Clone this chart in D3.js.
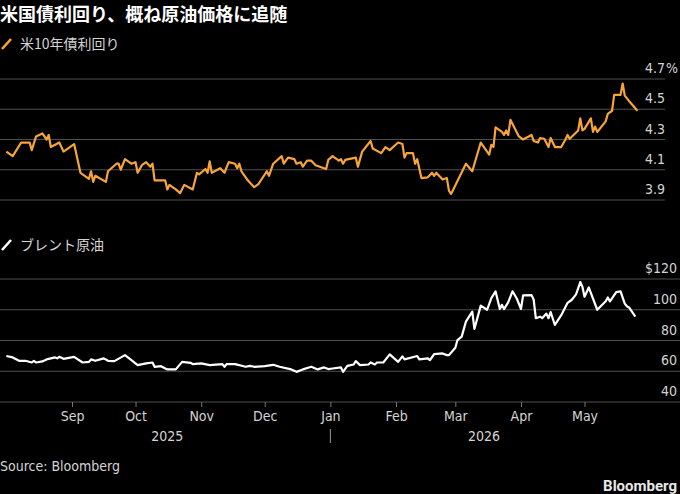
<!DOCTYPE html>
<html>
<head>
<meta charset="utf-8">
<script src="https://cdn.jsdelivr.net/npm/d3@7"></script>
<style>
  body { margin: 0; background: #000; }
  svg { display: block; }
  .cjk { font-family: "Noto Sans CJK JP", "Noto Sans", sans-serif; }
  .num { font-family: "Liberation Sans Narrow", "DejaVu Sans Condensed", "Roboto", sans-serif; }
</style>
</head>
<body>
<svg id="chart" width="680" height="494"></svg>
<script>
// 米10年債利回り (%)
var yieldData = [
  ["2025-08-01", 4.22], ["2025-08-04", 4.19], ["2025-08-08", 4.28], ["2025-08-12", 4.28],
  ["2025-08-13", 4.23], ["2025-08-15", 4.32], ["2025-08-18", 4.34], ["2025-08-20", 4.30],
  ["2025-08-21", 4.33], ["2025-08-22", 4.25], ["2025-08-26", 4.28], ["2025-08-28", 4.22],
  ["2025-09-02", 4.27], ["2025-09-05", 4.08], ["2025-09-09", 4.04], ["2025-09-10", 4.09],
  ["2025-09-11", 4.02], ["2025-09-12", 4.06], ["2025-09-17", 4.02], ["2025-09-18", 4.09],
  ["2025-09-22", 4.14], ["2025-09-23", 4.14], ["2025-09-24", 4.10], ["2025-09-26", 4.17],
  ["2025-09-29", 4.14], ["2025-10-01", 4.15], ["2025-10-02", 4.08], ["2025-10-04", 4.13],
  ["2025-10-06", 4.15], ["2025-10-08", 4.12], ["2025-10-09", 4.14], ["2025-10-10", 4.03],
  ["2025-10-15", 4.03], ["2025-10-16", 3.97], ["2025-10-17", 4.00], ["2025-10-20", 3.97],
  ["2025-10-22", 3.945], ["2025-10-24", 4.00], ["2025-10-28", 3.97], ["2025-10-30", 4.08],
  ["2025-10-31", 4.07], ["2025-11-03", 4.105], ["2025-11-04", 4.08], ["2025-11-05", 4.155],
  ["2025-11-06", 4.08], ["2025-11-10", 4.11], ["2025-11-12", 4.08], ["2025-11-14", 4.15],
  ["2025-11-17", 4.14], ["2025-11-18", 4.11], ["2025-11-19", 4.14], ["2025-11-20", 4.09],
  ["2025-11-23", 4.03], ["2025-11-26", 3.985], ["2025-11-28", 4.005], ["2025-12-02", 4.09],
  ["2025-12-03", 4.06], ["2025-12-05", 4.14], ["2025-12-09", 4.19], ["2025-12-10", 4.14],
  ["2025-12-12", 4.18], ["2025-12-15", 4.17], ["2025-12-16", 4.14], ["2025-12-18", 4.15],
  ["2025-12-19", 4.12], ["2025-12-21", 4.16], ["2025-12-23", 4.16], ["2025-12-25", 4.13],
  ["2025-12-30", 4.105], ["2025-12-31", 4.165], ["2026-01-02", 4.19], ["2026-01-05", 4.16],
  ["2026-01-06", 4.17], ["2026-01-07", 4.14], ["2026-01-08", 4.165], ["2026-01-13", 4.18],
  ["2026-01-14", 4.12], ["2026-01-16", 4.22], ["2026-01-20", 4.29], ["2026-01-21", 4.24],
  ["2026-01-25", 4.21], ["2026-01-27", 4.25], ["2026-01-29", 4.23], ["2026-02-02", 4.28],
  ["2026-02-04", 4.27], ["2026-02-05", 4.18], ["2026-02-06", 4.21], ["2026-02-09", 4.21],
  ["2026-02-10", 4.14], ["2026-02-11", 4.17], ["2026-02-13", 4.045], ["2026-02-16", 4.05],
  ["2026-02-18", 4.08], ["2026-02-19", 4.06], ["2026-02-20", 4.08], ["2026-02-23", 4.035],
  ["2026-02-25", 4.045], ["2026-02-26", 3.96], ["2026-02-27", 3.94], ["2026-03-06", 4.14],
  ["2026-03-09", 4.09], ["2026-03-13", 4.28], ["2026-03-17", 4.20], ["2026-03-18", 4.265],
  ["2026-03-19", 4.25], ["2026-03-20", 4.38], ["2026-03-23", 4.35], ["2026-03-24", 4.33],
  ["2026-03-25", 4.36], ["2026-03-26", 4.33], ["2026-03-27", 4.43], ["2026-03-31", 4.32],
  ["2026-04-02", 4.30], ["2026-04-06", 4.33], ["2026-04-07", 4.29], ["2026-04-09", 4.28],
  ["2026-04-10", 4.31], ["2026-04-12", 4.305], ["2026-04-14", 4.25], ["2026-04-15", 4.31],
  ["2026-04-17", 4.25], ["2026-04-20", 4.25], ["2026-04-22", 4.30], ["2026-04-23", 4.33],
  ["2026-04-24", 4.305], ["2026-04-28", 4.36], ["2026-04-29", 4.44], ["2026-04-30", 4.36],
  ["2026-05-01", 4.37], ["2026-05-04", 4.44], ["2026-05-05", 4.35], ["2026-05-06", 4.385],
  ["2026-05-07", 4.35], ["2026-05-11", 4.42], ["2026-05-12", 4.47], ["2026-05-14", 4.49],
  ["2026-05-15", 4.595], ["2026-05-18", 4.595], ["2026-05-19", 4.67], ["2026-05-20", 4.59],
  ["2026-05-22", 4.555], ["2026-05-26", 4.49]
];

// ブレント原油 ($)
var oilData = [
  ["2025-08-01", 69.9], ["2025-08-04", 69.0], ["2025-08-07", 66.8], ["2025-08-10", 66.8],
  ["2025-08-13", 65.7], ["2025-08-14", 66.8], ["2025-08-15", 65.7], ["2025-08-18", 66.4],
  ["2025-08-20", 67.7], ["2025-08-24", 69.0], ["2025-08-25", 68.4], ["2025-08-26", 69.4],
  ["2025-08-28", 68.1], ["2025-09-02", 69.4], ["2025-09-06", 65.7], ["2025-09-09", 66.1],
  ["2025-09-10", 67.7], ["2025-09-12", 66.8], ["2025-09-16", 68.4], ["2025-09-18", 66.8],
  ["2025-09-21", 66.6], ["2025-09-26", 70.5], ["2025-09-28", 68.4], ["2025-10-02", 64.0],
  ["2025-10-06", 65.1], ["2025-10-09", 65.7], ["2025-10-10", 62.9], ["2025-10-13", 63.3],
  ["2025-10-16", 61.2], ["2025-10-20", 61.2], ["2025-10-23", 66.1], ["2025-10-27", 65.5],
  ["2025-10-28", 64.6], ["2025-11-01", 65.1], ["2025-11-05", 64.0], ["2025-11-11", 64.6],
  ["2025-11-12", 62.9], ["2025-11-13", 64.6], ["2025-11-17", 64.6], ["2025-11-22", 62.9],
  ["2025-11-24", 63.5], ["2025-11-26", 62.9], ["2025-12-01", 63.3], ["2025-12-05", 64.2],
  ["2025-12-08", 62.9], ["2025-12-13", 61.4], ["2025-12-16", 59.6], ["2025-12-19", 61.2],
  ["2025-12-23", 62.9], ["2025-12-26", 61.2], ["2025-12-29", 62.5], ["2025-12-31", 61.4],
  ["2026-01-02", 61.8], ["2026-01-06", 62.5], ["2026-01-07", 59.6], ["2026-01-09", 63.5],
  ["2026-01-12", 64.4], ["2026-01-13", 66.6], ["2026-01-15", 64.0], ["2026-01-19", 64.4],
  ["2026-01-20", 65.7], ["2026-01-22", 64.4], ["2026-01-23", 65.7], ["2026-01-26", 65.7],
  ["2026-01-29", 71.0], ["2026-02-02", 66.1], ["2026-02-04", 69.7], ["2026-02-05", 67.7],
  ["2026-02-11", 69.9], ["2026-02-12", 67.7], ["2026-02-16", 68.4], ["2026-02-17", 67.3],
  ["2026-02-19", 71.2], ["2026-02-23", 71.6], ["2026-02-25", 70.5], ["2026-02-26", 70.5],
  ["2026-03-01", 75.3], ["2026-03-02", 80.3], ["2026-03-04", 82.5], ["2026-03-06", 92.3],
  ["2026-03-09", 98.8], ["2026-03-10", 87.5], ["2026-03-13", 102.7], ["2026-03-16", 100.0],
  ["2026-03-18", 107.6], ["2026-03-20", 111.9], ["2026-03-22", 100.5], ["2026-03-23", 103.2],
  ["2026-03-24", 100.4], ["2026-03-26", 105.0], ["2026-03-28", 112.0], ["2026-03-30", 107.3],
  ["2026-04-01", 100.5], ["2026-04-02", 109.3], ["2026-04-06", 109.5], ["2026-04-07", 106.5],
  ["2026-04-08", 94.5], ["2026-04-10", 95.5], ["2026-04-11", 94.5], ["2026-04-13", 97.5],
  ["2026-04-14", 94.5], ["2026-04-15", 98.5], ["2026-04-17", 90.1], ["2026-04-20", 96.5],
  ["2026-04-23", 104.5], ["2026-04-25", 106.5], ["2026-04-27", 110.0], ["2026-04-29", 118.0],
  ["2026-04-30", 115.0], ["2026-05-01", 108.5], ["2026-05-03", 114.5], ["2026-05-07", 100.0],
  ["2026-05-11", 105.5], ["2026-05-12", 108.0], ["2026-05-13", 105.4], ["2026-05-16", 111.5],
  ["2026-05-18", 112.0], ["2026-05-20", 104.0], ["2026-05-21", 102.3], ["2026-05-22", 101.5],
  ["2026-05-25", 95.5]
];

var yieldTicks = [3.9, 4.1, 4.3, 4.5, 4.7];
var oilTicks = [40, 60, 80, 100, 120];
var monthTicks = ["2025-09-01", "2025-10-01", "2025-11-01", "2025-12-01", "2026-01-01",
                  "2026-02-01", "2026-03-01", "2026-04-01", "2026-05-01"];
var years = [2025, 2026];

var orange = "#f7a43b";
var grid = "#4f4f4f";
var labelColor = "#d4d4d4";

var parse = d3.timeParse("%Y-%m-%d");
yieldData.forEach(d => { d.date = parse(d[0]); d.value = d[1]; });
oilData.forEach(d => { d.date = parse(d[0]); d.value = d[1]; });

var svg = d3.select("#chart");
svg.append("rect").attr("width", 680).attr("height", 494).attr("fill", "#000");

var x = d3.scaleTime()
  .domain([parse("2025-07-29"), parse("2026-06-08")])
  .range([0, 665]);

var yTop = d3.scaleLinear().domain([3.9, 4.7]).range([200, 79]);
var yBot = d3.scaleLinear().domain([40, 120]).range([402, 279]);

// title + legends
svg.append("text").attr("class", "cjk")
  .attr("x", 0).attr("y", 21)
  .attr("font-size", 18).attr("font-weight", "bold").attr("fill", "#fff")
  .text("米国債利回り、概ね原油価格に追随");

function legend(y, color, label) {
  svg.append("line")
    .attr("x1", 2).attr("y1", y + 2).attr("x2", 11).attr("y2", y - 8)
    .attr("stroke", color).attr("stroke-width", 2.6);
  svg.append("text").attr("class", "cjk")
    .attr("x", 20).attr("y", y + 2)
    .attr("font-size", 14).attr("fill", labelColor)
    .text(label);
}
legend(47, orange, "米10年債利回り");
legend(248, "#fff", "ブレント原油");

// top panel grid
svg.append("g").selectAll("line")
  .data(yieldTicks).enter().append("line")
  .attr("x1", 0).attr("x2", 665)
  .attr("y1", d => yTop(d)).attr("y2", d => yTop(d))
  .attr("stroke", grid).attr("stroke-width", 1.2);

svg.append("g").selectAll("text")
  .data(yieldTicks).enter().append("text")
  .attr("class", "num")
  .attr("x", 665).attr("y", d => yTop(d) - 6)
  .attr("text-anchor", "end")
  .attr("font-size", 14).attr("fill", labelColor)
  .text(d => d3.format(".1f")(d));
svg.append("text").attr("class", "num")
  .attr("x", 666).attr("y", yTop(4.7) - 6)
  .attr("font-size", 14).attr("fill", labelColor)
  .text("%");

// bottom panel grid
svg.append("g").selectAll("line")
  .data(oilTicks).enter().append("line")
  .attr("x1", 0).attr("x2", 680)
  .attr("y1", d => yBot(d)).attr("y2", d => yBot(d))
  .attr("stroke", grid).attr("stroke-width", 1.2);

svg.append("g").selectAll("text")
  .data(oilTicks).enter().append("text")
  .attr("class", "num")
  .attr("x", 677).attr("y", d => yBot(d) - 6)
  .attr("text-anchor", "end")
  .attr("font-size", 14).attr("fill", labelColor)
  .text(d => d == 120 ? "$" + d : d);

// lines
var lineTop = d3.line().x(d => x(d.date)).y(d => yTop(d.value));
var lineBot = d3.line().x(d => x(d.date)).y(d => yBot(d.value));

svg.append("path").datum(yieldData)
  .attr("d", lineTop)
  .attr("fill", "none").attr("stroke", orange)
  .attr("stroke-width", 2.2).attr("stroke-linejoin", "round");

svg.append("path").datum(oilData)
  .attr("d", lineBot)
  .attr("fill", "none").attr("stroke", "#fff")
  .attr("stroke-width", 2.2).attr("stroke-linejoin", "round");

// x axis
var xAxis = d3.axisBottom(x)
  .tickValues(monthTicks.map(parse))
  .tickFormat(d3.timeFormat("%b"))
  .tickSize(5).tickPadding(4);

var ax = svg.append("g").attr("transform", "translate(0,402)").call(xAxis);
ax.select(".domain").remove();
ax.selectAll(".tick line").attr("stroke", "#777");
ax.selectAll(".tick text")
  .attr("class", "num")
  .attr("font-size", 14).attr("fill", labelColor);

// year labels centred on the data inside each year
years.forEach(yr => {
  var pts = oilData.filter(d => d.date.getFullYear() == yr);
  var ext = d3.extent(pts, d => x(d.date));
  svg.append("text").attr("class", "num")
    .attr("x", (ext[0] + ext[1]) / 2).attr("y", 441)
    .attr("text-anchor", "middle")
    .attr("font-size", 14).attr("fill", labelColor)
    .text(yr);
});
svg.append("line")
  .attr("x1", x(parse("2026-01-01"))).attr("x2", x(parse("2026-01-01")))
  .attr("y1", 429).attr("y2", 443)
  .attr("stroke", "#999").attr("stroke-width", 1);

// footer
svg.append("text").attr("class", "num")
  .attr("x", 0).attr("y", 471)
  .attr("font-size", 14).attr("fill", labelColor)
  .text("Source: Bloomberg");
svg.append("text")
  .attr("x", 677).attr("y", 491)
  .attr("text-anchor", "end")
  .attr("font-family", "Liberation Sans Narrow, Roboto, sans-serif")
  .attr("font-size", 15).attr("font-weight", "bold").attr("fill", "#e8e8e8")
  .text("Bloomberg");
</script>
</body>
</html>
